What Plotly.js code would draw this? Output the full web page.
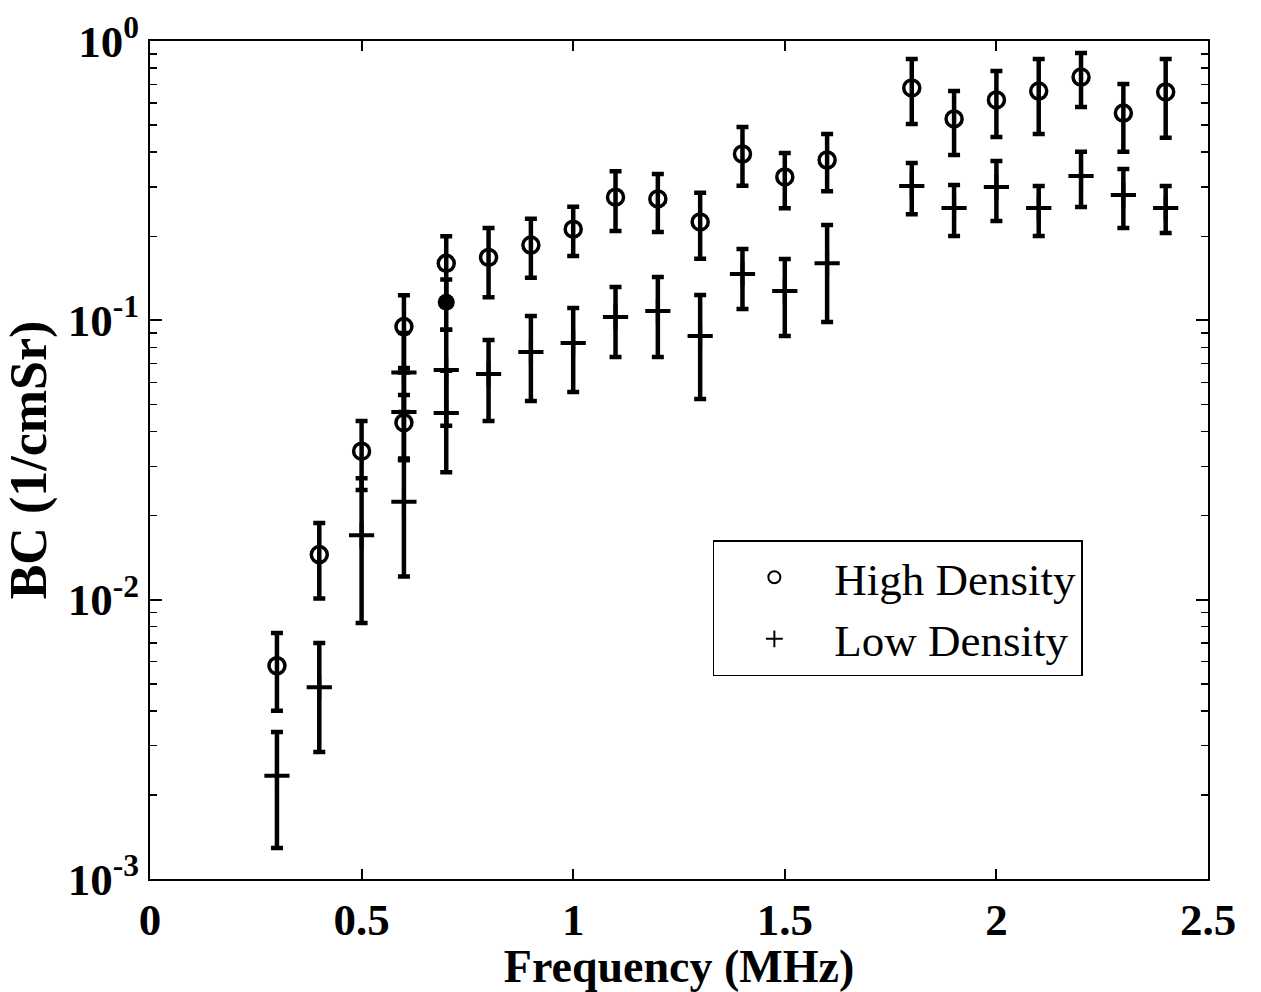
<!DOCTYPE html>
<html>
<head>
<meta charset="utf-8">
<script src="https://cdn.plot.ly/plotly-3.0.1.min.js"></script>
<style>html,body{margin:0;padding:0;background:#fff;}#chart{width:1261px;height:992px;}</style>
</head>
<body>
<div id="chart"></div>
<script>
// High Density (open circles)
const hdX  = [0.3, 0.4, 0.5, 0.6, 0.6, 0.7, 0.8, 0.9, 1.0, 1.1, 1.2, 1.3, 1.4, 1.5, 1.6, 1.8, 1.9, 2.0, 2.1, 2.2, 2.3, 2.4];
const hdY  = [0.0058, 0.0145, 0.034, 0.095, 0.043, 0.160, 0.168, 0.186, 0.212, 0.276, 0.272, 0.225, 0.394, 0.326, 0.375, 0.679, 0.526, 0.615, 0.662, 0.743, 0.552, 0.657];
const hdHi = [0.0076, 0.0188, 0.0436, 0.123, 0.054, 0.200, 0.214, 0.231, 0.255, 0.342, 0.334, 0.286, 0.492, 0.397, 0.465, 0.862, 0.662, 0.781, 0.862, 0.906, 0.702, 0.862];
const hdLo = [0.0040, 0.0101, 0.0247, 0.0675, 0.0316, 0.117, 0.121, 0.142, 0.170, 0.209, 0.207, 0.166, 0.303, 0.252, 0.290, 0.504, 0.391, 0.453, 0.465, 0.580, 0.401, 0.450];

// High Density point drawn filled
const hdFilledX  = [0.7];
const hdFilledY  = [0.116];
const hdFilledHi = [0.140];
const hdFilledLo = [0.0925];

// Low Density (plus)
const ldX  = [0.3, 0.4, 0.5, 0.6, 0.6, 0.6, 0.7, 0.7, 0.8, 0.9, 1.0, 1.1, 1.2, 1.3, 1.4, 1.5, 1.6, 1.8, 1.9, 2.0, 2.1, 2.2, 2.3, 2.4];
const ldY  = [0.00234, 0.00486, 0.0170, 0.065, 0.047, 0.0224, 0.0664, 0.0466, 0.0642, 0.077, 0.083, 0.1027, 0.108, 0.0879, 0.1465, 0.1273, 0.160, 0.3027, 0.2524, 0.300, 0.2524, 0.3286, 0.281, 0.2524];
const ldHi = [0.00336, 0.00699, 0.0272, 0.090, 0.065, 0.032, 0.0925, 0.066, 0.085, 0.1036, 0.1107, 0.1316, 0.1429, 0.1232, 0.180, 0.1658, 0.2195, 0.366, 0.305, 0.372, 0.3027, 0.401, 0.348, 0.3027];
const ldLo = [0.00129, 0.00285, 0.00825, 0.047, 0.0316, 0.0121, 0.0419, 0.0286, 0.0436, 0.0514, 0.0554, 0.0739, 0.0739, 0.0523, 0.1098, 0.0879, 0.0986, 0.240, 0.2004, 0.2267, 0.2004, 0.2544, 0.214, 0.2054];

const xTickVals = [0, 0.5, 1, 1.5, 2, 2.5];
const xTickText = ['0', '0.5', '1', '1.5', '2', '2.5'];
const yTickVals = [0.001, 0.01, 0.1, 1];
const yTickText = ['10<sup>-3</sup>', '10<sup>-2</sup>', '10<sup>-1</sup>', '10<sup>0</sup>'];

const SERIF = '"Liberation Serif", "Times New Roman", serif';

function errBar(y, hi, lo) {
  return {
    type: 'data', symmetric: false,
    array: y.map((v, i) => hi[i] - v),
    arrayminus: y.map((v, i) => v - lo[i]),
    color: '#000', thickness: 4.5, width: 6
  };
}

const traces = [
  {
    x: hdX, y: hdY, type: 'scatter', mode: 'markers', name: 'High Density',
    marker: {symbol: 'circle-open', size: 16, color: '#000', line: {width: 3.5, color: '#000'}},
    error_y: errBar(hdY, hdHi, hdLo)
  },
  {
    x: hdFilledX, y: hdFilledY, type: 'scatter', mode: 'markers', name: 'High Density (filled)',
    showlegend: false,
    marker: {symbol: 'circle', size: 17, color: '#000'},
    error_y: errBar(hdFilledY, hdFilledHi, hdFilledLo)
  },
  {
    x: ldX, y: ldY, type: 'scatter', mode: 'markers', name: 'Low Density',
    marker: {symbol: 'cross-thin-open', size: 18, color: '#000', line: {width: 4, color: '#000'}},
    error_y: errBar(ldY, ldHi, ldLo)
  }
];

const layout = {
  width: 1261, height: 992,
  margin: {l: 150, r: 53, t: 41, b: 113},
  paper_bgcolor: '#fff', plot_bgcolor: '#fff',
  showlegend: true,
  legend: {
    x: 0.532, y: 0.4045, xanchor: 'left', yanchor: 'top',
    bordercolor: '#000', borderwidth: 1.5, bgcolor: '#fff',
    font: {family: SERIF, size: 45, color: '#000'},
    itemwidth: 110, tracegroupgap: 0, itemsizing: 'constant',
    entrywidth: 400, entrywidthmode: 'pixels'
  },
  xaxis: {
    range: [0, 2.5], tickmode: 'array', tickvals: xTickVals, ticktext: xTickText,
    ticks: 'inside', ticklen: 10, tickwidth: 2, tickcolor: '#000',
    showline: true, linecolor: '#000', linewidth: 2, mirror: 'allticks',
    showgrid: false, zeroline: false,
    tickfont: {family: SERIF, size: 45, color: '#000', weight: 'bold'},
    title: {text: 'Frequency (MHz)', font: {family: SERIF, size: 46, color: '#000', weight: 'bold'}, standoff: 12}
  },
  yaxis: {
    type: 'log', range: [-3, 0], tickmode: 'array', tickvals: yTickVals, ticktext: yTickText,
    ticks: 'inside', ticklen: 12, tickwidth: 2, tickcolor: '#000',
    minor: {ticks: 'inside', ticklen: 7, tickwidth: 1.5, tickcolor: '#000', dtick: 'D1', showgrid: false},
    showline: true, linecolor: '#000', linewidth: 2, mirror: 'allticks',
    showgrid: false, zeroline: false,
    tickfont: {family: SERIF, size: 45, color: '#000', weight: 'bold'},
    title: {text: 'BC (1/cmSr)', font: {family: SERIF, size: 52, color: '#000', weight: 'bold'}, standoff: 6}
  }
};

Plotly.newPlot('chart', traces, layout, {staticPlot: true, displayModeBar: false});
</script>
</body>
</html>
